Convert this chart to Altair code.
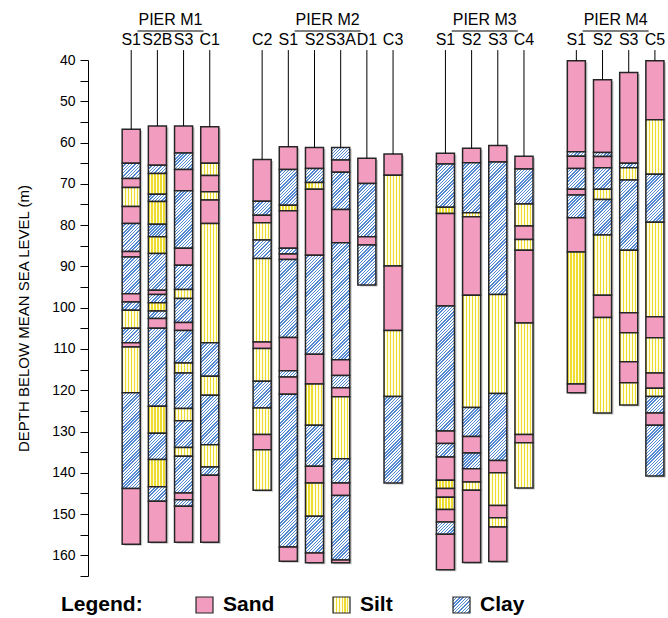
import altair as alt
import pandas as pd

SA, SI, CL = "Sand", "Silt", "Clay"

PIER_NAMES = ["PIER M1", "PIER M2", "PIER M3", "PIER M4"]
M1_NAMES = ["S1", "S2B", "S3", "C1"]
M2_NAMES = ["C2", "S1", "S2", "S3A", "D1", "C3"]
M3_NAMES = ["S1", "S2", "S3", "C4"]
M4_NAMES = ["S1", "S2", "S3", "C5"]

# ---- layer boundaries (depth, m) and soil of each layer ----
M1_S1_DEPTH = [56.8, 65.0, 68.7, 70.9, 75.5, 79.6, 86.4, 87.7, 96.6, 98.6, 100.6, 105.0, 108.5, 109.5, 120.6, 143.8, 157.3]
M1_S1_SOIL = [SA, CL, SA, SI, SA, CL, SA, CL, SA, CL, SI, CL, SA, SI, CL, SA]
M1_S2B_DEPTH = [56.0, 65.5, 67.5, 72.5, 74.3, 79.8, 82.8, 86.9, 95.8, 96.8, 98.8, 100.8, 102.6, 105.0, 123.9, 130.4, 136.8, 143.4, 146.9, 156.8]
M1_S2B_SOIL = [SA, CL, SI, CL, SI, CL, SI, CL, SA, CL, SI, CL, SA, CL, SI, CL, SI, CL, SA]
M1_S3_DEPTH = [56.0, 62.5, 66.5, 71.7, 85.6, 89.7, 95.6, 97.8, 103.6, 105.5, 113.4, 115.8, 124.4, 127.4, 133.9, 136.0, 144.9, 146.5, 148.1, 156.8]
M1_S3_SOIL = [SA, CL, SA, CL, SA, CL, SI, CL, SA, CL, SI, CL, SI, CL, SI, CL, SA, CL, SA]
M1_C1_DEPTH = [56.2, 65.0, 68.0, 71.9, 73.9, 79.6, 108.5, 116.6, 121.2, 133.2, 138.6, 140.6, 156.8]
M1_C1_SOIL = [SA, SI, SA, SI, SA, SI, CL, SI, CL, SI, CL, SA]

M2_C2_DEPTH = [64.1, 74.2, 77.6, 79.4, 83.6, 88.1, 108.3, 109.9, 117.8, 124.3, 130.7, 134.4, 144.2]
M2_C2_SOIL = [SA, CL, SA, SI, CL, SI, SA, SI, CL, SI, SA, SI]
M2_S1_DEPTH = [61.0, 66.5, 75.2, 76.5, 85.6, 87.0, 88.3, 107.2, 115.3, 116.8, 121.0, 158.0, 161.4]
M2_S1_SOIL = [SA, CL, SI, SA, CL, SA, CL, SA, CL, SA, CL, SA]
M2_S2_DEPTH = [61.2, 66.3, 69.7, 71.3, 87.3, 111.3, 118.5, 128.5, 138.4, 142.5, 150.5, 159.4, 161.8]
M2_S2_SOIL = [SA, CL, SI, SA, CL, SA, SI, CL, SA, SI, CL, SA]
M2_S3A_DEPTH = [61.2, 64.2, 67.2, 76.2, 84.3, 112.6, 116.4, 119.4, 121.6, 136.6, 142.5, 145.5, 161.1, 161.8]
M2_S3A_SOIL = [CL, SA, CL, SA, CL, SA, CL, SA, SI, CL, SA, CL, SA]
M2_D1_DEPTH = [63.8, 69.9, 82.8, 84.8, 94.5]
M2_D1_SOIL = [SA, CL, SA, CL]
M2_C3_DEPTH = [62.8, 67.9, 89.9, 105.5, 121.5, 142.5]
M2_C3_SOIL = [SA, SI, SA, SI, CL]

M3_S1_DEPTH = [62.6, 65.2, 75.7, 77.2, 99.6, 129.9, 132.9, 136.2, 141.8, 143.8, 145.9, 148.9, 151.9, 154.9, 163.5]
M3_S1_SOIL = [SA, CL, SI, SA, CL, SA, CL, SA, SI, SA, SI, SA, CL, SA]
M3_S2_DEPTH = [61.4, 64.9, 77.0, 78.0, 97.0, 124.2, 131.2, 135.2, 139.0, 142.2, 144.2, 161.7]
M3_S2_SOIL = [SA, CL, SI, SA, SI, CL, SA, CL, SA, SI, SA]
M3_S3_DEPTH = [60.7, 64.7, 96.8, 120.8, 137.0, 140.0, 147.9, 150.9, 153.1, 161.5]
M3_S3_SOIL = [SA, CL, SI, CL, SA, SI, SA, SI, SA]
M3_C4_DEPTH = [63.3, 66.4, 74.9, 80.2, 83.5, 86.1, 103.7, 130.7, 132.7, 143.7]
M3_C4_SOIL = [SA, CL, SI, SA, SI, SA, SI, SA, SI]

M4_S1_DEPTH = [40.2, 62.2, 63.3, 66.3, 71.3, 72.7, 78.2, 86.5, 118.5, 120.6]
M4_S1_SOIL = [SA, CL, SA, CL, SA, CL, SA, SI, SA]
M4_S2_DEPTH = [44.8, 62.4, 63.4, 66.1, 71.3, 73.8, 82.4, 97.0, 102.4, 125.5]
M4_S2_SOIL = [SA, CL, SA, CL, SI, CL, SI, SA, SI]
M4_S3_DEPTH = [43.0, 65.0, 66.1, 69.1, 86.1, 101.2, 106.1, 113.1, 118.2, 123.6]
M4_S3_SOIL = [SA, CL, SI, CL, SI, SA, SI, SA, SI]
M4_C5_DEPTH = [40.2, 54.5, 67.7, 79.3, 102.2, 107.3, 115.8, 119.5, 121.5, 125.5, 128.5, 140.8]
M4_C5_SOIL = [SA, SI, CL, SI, SA, SI, SA, SI, CL, SA, CL]

Y_TICKS = list(range(40, 170, 5))
LEGEND_ITEMS = [SA, SI, CL]

BOREHOLES = [
    [(M1_S1_DEPTH, M1_S1_SOIL), (M1_S2B_DEPTH, M1_S2B_SOIL), (M1_S3_DEPTH, M1_S3_SOIL), (M1_C1_DEPTH, M1_C1_SOIL)],
    [(M2_C2_DEPTH, M2_C2_SOIL), (M2_S1_DEPTH, M2_S1_SOIL), (M2_S2_DEPTH, M2_S2_SOIL),
     (M2_S3A_DEPTH, M2_S3A_SOIL), (M2_D1_DEPTH, M2_D1_SOIL), (M2_C3_DEPTH, M2_C3_SOIL)],
    [(M3_S1_DEPTH, M3_S1_SOIL), (M3_S2_DEPTH, M3_S2_SOIL), (M3_S3_DEPTH, M3_S3_SOIL), (M3_C4_DEPTH, M3_C4_SOIL)],
    [(M4_S1_DEPTH, M4_S1_SOIL), (M4_S2_DEPTH, M4_S2_SOIL), (M4_S3_DEPTH, M4_S3_SOIL), (M4_C5_DEPTH, M4_C5_SOIL)],
]
NAMES = [M1_NAMES, M2_NAMES, M3_NAMES, M4_NAMES]

# ---- layout / style ----
WIDTH, HEIGHT = 580, 516
X_DOM = [-1.65, 20.5]
Y_DOM = [40, 165]
PX_X = WIDTH / (X_DOM[1] - X_DOM[0])
PX_Y = HEIGHT / (Y_DOM[1] - Y_DOM[0])
HALF = 0.345
COL_W = 2 * HALF * PX_X
LEAD_TOP = 37.6
FONT = "Liberation Sans"

SAND_COLOR = "#f29cbf"
SILT_LINE, SILT_BG = "#eedc30", "#fffde6"
CLAY_LINE, CLAY_BG = "#5288d2", "#ffffff"
EDGE = "#262626"


def striped(n, frac, c_line, c_bg, x2, y2):
    stops = []
    for j in range(n):
        a, b, c = j / n, (j + frac) / n, (j + 1) / n
        stops += [{"offset": a, "color": c_line}, {"offset": b, "color": c_line},
                  {"offset": b, "color": c_bg}, {"offset": c, "color": c_bg}]
    return {"gradient": "linear", "x1": 0, "y1": 0, "x2": x2, "y2": y2, "stops": stops}


def paint(soil, w_px, h_px):
    if soil == SA:
        return SAND_COLOR
    if soil == SI:
        n = max(1, round(w_px / 3.0))
        return striped(n, 0.42, SILT_LINE, SILT_BG, 1, 0)
    # clay: 45 degree hatch "////" in pixel space
    n = max(1, round((w_px + h_px) / 3.2))
    k = (w_px + h_px) / (w_px ** 2 + h_px ** 2)
    return striped(n, 0.45, CLAY_LINE, CLAY_BG, k * w_px, k * h_px)


seg_rows, col_rows, pier_rows = [], [], []
pos = 0
for pier, names, holes in zip(PIER_NAMES, NAMES, BOREHOLES):
    first = pos
    for name, (depths, soils) in zip(names, holes):
        for top, bot, soil in zip(depths[:-1], depths[1:], soils):
            seg_rows.append({"x0": pos - HALF, "x1": pos + HALF, "top": top, "bottom": bot,
                             "soil": soil, "paint": paint(soil, COL_W, (bot - top) * PX_Y)})
        col_rows.append({"pos": pos, "name": name, "top": depths[0], "bottom": depths[-1],
                         "x0": pos - HALF, "x1": pos + HALF, "lead": LEAD_TOP})
        pos += 1
    pier_rows.append({"pier": pier, "center": (first + pos - 1) / 2})
    pos += 1

cols_df = pd.DataFrame(col_rows)
piers_df = pd.DataFrame(pier_rows)

X_SCALE = alt.Scale(domain=X_DOM, nice=False, zero=False)
Y_SCALE = alt.Scale(domain=Y_DOM, nice=False, zero=False, reverse=True)

Y_TITLE = "DEPTH BELOW MEAN SEA LEVEL (m)"
y_axis = alt.Axis(
    title=Y_TITLE, values=Y_TICKS,
    labelExpr="datum.value % 10 === 0 && datum.value <= 160 ? datum.label : ''",
    tickSize=8, tickColor="black", domainColor="black", labelColor="black", titleColor="black",
    labelFontSize=14, titleFontSize=15, titleFontWeight="normal", labelPadding=5, titlePadding=20,
    grid=False, labelOverlap=False, labelFont=FONT, titleFont=FONT, domainWidth=1, tickWidth=1,
)

shadow = alt.Chart(cols_df).mark_rect(fill="#9a9a9a", opacity=0.55, xOffset=2, x2Offset=2,
                                      yOffset=1.5, y2Offset=1.5).encode(
    x=alt.X("x0:Q", scale=X_SCALE, axis=None),
    x2="x1:Q",
    y=alt.Y("top:Q", scale=Y_SCALE, axis=y_axis, title=Y_TITLE),
    y2="bottom:Q",
)

segments = alt.Chart(alt.Data(values=seg_rows)).mark_rect(stroke=EDGE, strokeWidth=1.5).encode(
    x=alt.X("x0:Q", scale=X_SCALE, axis=None),
    x2="x1:Q",
    y=alt.Y("top:Q", scale=Y_SCALE, axis=y_axis, title=Y_TITLE),
    y2="bottom:Q",
    fill=alt.Fill("paint:N", scale=None),
)

leaders = alt.Chart(cols_df).mark_rule(color="black", strokeWidth=1).encode(
    x=alt.X("pos:Q", scale=X_SCALE, axis=None),
    y=alt.Y("lead:Q", scale=Y_SCALE, axis=y_axis, title=Y_TITLE),
    y2="top:Q",
)

col_labels = alt.Chart(cols_df).mark_text(fontSize=16, font=FONT, color="black", baseline="middle").encode(
    x=alt.X("pos:Q", scale=X_SCALE, axis=None),
    y=alt.value(-20),
    text="name:N",
)

pier_labels = alt.Chart(piers_df).mark_text(fontSize=16, font=FONT, color="black", baseline="middle").encode(
    x=alt.X("center:Q", scale=X_SCALE, axis=None),
    y=alt.value(-40),
    text="pier:N",
)

pier_lines = alt.Chart(piers_df).mark_rule(color="black", strokeWidth=1, xOffset=-33, x2Offset=33).encode(
    x=alt.X("center:Q", scale=X_SCALE, axis=None),
    x2="center:Q",
    y=alt.value(-29),
)

one = alt.Data(values=[{}])
legend_layers = [
    alt.Chart(one).mark_text(text="Legend:", fontSize=21, fontWeight="bold", font=FONT, align="left",
                             baseline="middle", color="black").encode(x=alt.value(-27), y=alt.value(545))
]
SW_X = [108, 245, 365]
for item, sx in zip(LEGEND_ITEMS, SW_X):
    legend_layers.append(
        alt.Chart(one).mark_rect(stroke=EDGE, strokeWidth=1.2).encode(
            x=alt.value(sx), x2=alt.value(sx + 17), y=alt.value(537), y2=alt.value(553),
            fill=alt.value(paint(item, 17, 16)),
        )
    )
    legend_layers.append(
        alt.Chart(one).mark_text(text=item, fontSize=21, fontWeight="bold", font=FONT, align="left",
                                 baseline="middle", color="black").encode(x=alt.value(sx + 27), y=alt.value(545))
    )

chart = alt.layer(shadow, segments, leaders, col_labels, pier_labels, pier_lines, *legend_layers).properties(
    width=WIDTH, height=HEIGHT,
    autosize=alt.AutoSizeParams(type="none"),
    padding={"left": 88, "top": 60, "right": 0, "bottom": 42},
).configure(font=FONT).configure_view(stroke=None)

chart.save("out.html", embed_options={"renderer": "svg", "actions": False})
